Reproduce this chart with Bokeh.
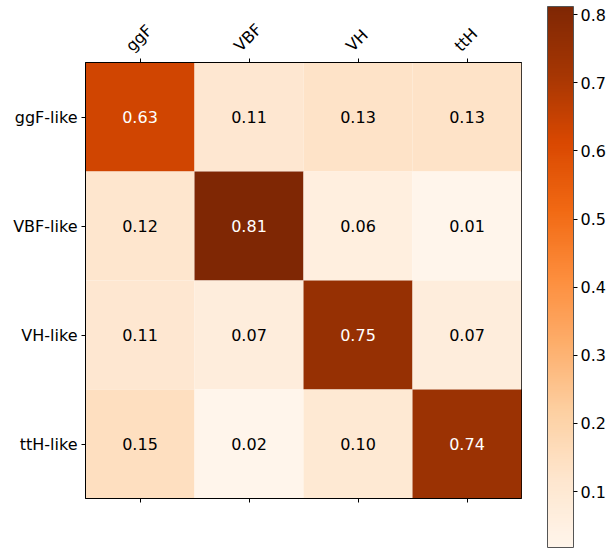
import numpy as np
from bokeh.plotting import figure
from bokeh.models import (LinearColorMapper, ColumnDataSource, Range1d, FixedTicker,
                          LinearAxis, ColorBar)
from bokeh.core.properties import value
from bokeh.embed import file_html
from bokeh.resources import INLINE

try:
    from bokeh.palettes import Oranges256
    palette = list(Oranges256)[::-1]
except Exception:
    from bokeh.palettes import Oranges9
    palette = list(Oranges9)[::-1]

true_labels = ["ggF", "VBF", "VH", "ttH"]
reco_labels = ["ggF-like", "VBF-like", "VH-like", "ttH-like"]
matrix = [
    [0.63, 0.11, 0.13, 0.13],
    [0.12, 0.81, 0.06, 0.01],
    [0.11, 0.07, 0.75, 0.07],
    [0.15, 0.02, 0.10, 0.74],
]
cbar_low = 0.018
cbar_high = 0.812
cbar_ticks = [0.1, 0.2, 0.3, 0.4, 0.5, 0.6, 0.7, 0.8]

FONT = "DejaVu Sans"
mapper = LinearColorMapper(palette=palette, low=cbar_low, high=cbar_high)

xs, ys, vals, txt, tcol = [], [], [], [], []
for i, r in enumerate(reco_labels):
    for j, t in enumerate(true_labels):
        v = matrix[i][j]
        xs.append(j)
        ys.append(i)
        vals.append(v)
        txt.append(f"{v:.2f}")
        tcol.append("white" if v > 0.45 else "black")
src = ColumnDataSource(dict(x=xs, y=ys, v=vals, t=txt, c=tcol))

p = figure(width=612, height=550, output_backend="svg", toolbar_location=None,
           x_range=Range1d(-0.5, 3.5), y_range=Range1d(3.5, -0.5),
           x_axis_location=None, y_axis_location=None,
           min_border_left=85, min_border_top=62, min_border_bottom=52,
           min_border_right=91)
p.frame_width = 436
p.frame_height = 436
p.grid.visible = False
p.outline_line_color = "black"
p.outline_line_width = 1
p.background_fill_color = "white"
p.border_fill_color = "white"

p.rect(x="x", y="y", width=1, height=1, source=src,
       fill_color={"field": "v", "transform": mapper}, line_color=None)
p.text(x="x", y="y", text="t", source=src, text_color="c",
       text_align="center", text_baseline="middle",
       text_font=value(FONT), text_font_size="16px")

def style(ax):
    ax.ticker = FixedTicker(ticks=[0, 1, 2, 3])
    ax.axis_line_color = "black"
    ax.major_tick_line_color = "black"
    ax.major_tick_out = 4
    ax.major_tick_in = 0
    ax.minor_tick_line_color = None
    ax.major_label_text_font = FONT
    ax.major_label_text_font_size = "16px"
    ax.major_label_text_color = "black"
    ax.major_label_standoff = 4

# top: ticks only (nearest to frame)
top = LinearAxis()
style(top)
top.major_label_text_font_size = "0px"
top.major_label_standoff = 0
top.major_label_overrides = {i: "" for i in range(4)}
p.add_layout(top, "above")

# top: rotated labels, anchored so that each label is centred on its tick
label_widths_em = [1.845, 1.945, 1.436, 1.536]
label_pos = [j - (1 + 0.354 * w * 16) / 109.0 for j, w in enumerate(label_widths_em)]
top_lab = LinearAxis()
top_lab.ticker = FixedTicker(ticks=label_pos)
top_lab.major_label_overrides = {pos: lab for pos, lab in zip(label_pos, true_labels)}
top_lab.major_label_orientation = np.pi / 4
top_lab.axis_line_color = None
top_lab.major_tick_line_color = None
top_lab.minor_tick_line_color = None
top_lab.major_tick_out = 0
top_lab.major_tick_in = 0
top_lab.major_label_standoff = 10
top_lab.major_label_text_font = FONT
top_lab.major_label_text_font_size = "16px"
top_lab.major_label_text_color = "black"
p.add_layout(top_lab, "above")

bottom = LinearAxis()
style(bottom)
bottom.major_label_text_font_size = "0px"
bottom.major_label_overrides = {i: "" for i in range(4)}
p.add_layout(bottom, "below")

left = LinearAxis()
style(left)
left.major_label_overrides = {i: l for i, l in enumerate(reco_labels)}
p.add_layout(left, "left")

cbar = ColorBar(color_mapper=mapper, ticker=FixedTicker(ticks=cbar_ticks),
                width=26, height=541, location=(26, -49), padding=0, margin=0,
                bar_line_color="#555555", bar_line_width=1,
                major_tick_in=0, major_tick_out=4, major_tick_line_color="black",
                minor_tick_line_color=None,
                major_label_text_font=FONT, major_label_text_font_size="16px",
                major_label_text_color="black", label_standoff=3,
                background_fill_alpha=0, border_line_color=None)
p.add_layout(cbar, "right")

open("out.html", "w").write(file_html(p, INLINE))
